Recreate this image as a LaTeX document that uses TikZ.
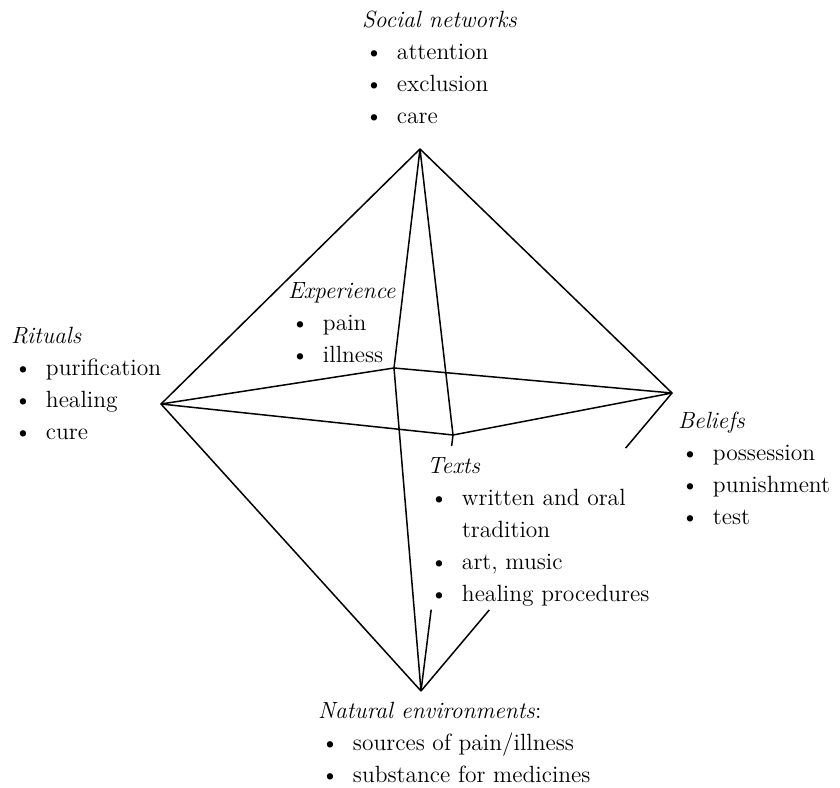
\documentclass[tikz,border=0pt]{standalone}
\usepackage{tikz}
\usetikzlibrary{
  calc,
  positioning
}
\newcommand{\blt}{\makebox[17.5pt][l]{\hspace{1.5pt}\textbullet}}
\newcommand{\cont}{\hspace*{17.5pt}}

\begin{document}
\begin{tikzpicture}[
  x=0.5pt, y=-0.5pt,
  every node/.style={font=\fontsize{11.75}{16}\selectfont},
  lbl/.style={anchor=base west, inner sep=0pt, outer sep=0pt},
  edge/.style={line width=0.75pt, line join=round}
]
  \useasboundingbox (0,0) rectangle (840,787);

  % corners of the solid
  \coordinate (social) at (420,149);
  \coordinate (rituals) at (161,404);
  \coordinate (experience) at (394,368);
  \coordinate (beliefs) at (672,393);
  \coordinate (texts) at (453,435);
  \coordinate (nature) at (421,691);

  % lists
  \node[lbl] (socialtxt) at (362,27) {\begin{tabular}[t]{@{}l@{}}
    \textit{Social networks}\\ \blt attention\\ \blt exclusion\\ \blt care\end{tabular}};
  \node[lbl] (ritualstxt) at (11,343) {\begin{tabular}[t]{@{}l@{}}
    \textit{Rituals}\\ \blt purification\\ \blt healing\\ \blt cure\end{tabular}};
  \node[lbl] (experiencetxt) at (288,298) {\begin{tabular}[t]{@{}l@{}}
    \textit{Experience}\\ \blt pain\\ \blt illness\end{tabular}};
  \node[lbl] (beliefstxt) at (678,428) {\begin{tabular}[t]{@{}l@{}}
    \textit{Beliefs}\\ \blt possession\\ \blt punishment\\ \blt test\end{tabular}};
  \node[lbl] (textstxt) at (427,473) {\begin{tabular}[t]{@{}l@{}}
    \textit{Texts}\\ \blt written and oral\\ \cont tradition\\ \blt art, music\\ \blt healing procedures\end{tabular}};
  \node[lbl] (naturetxt) at (318,718) {\begin{tabular}[t]{@{}l@{}}
    \textit{Natural environments}:\\ \blt sources of pain/illness\\ \blt substance for medicines\end{tabular}};

  % upper half
  \draw[edge] (social) -- (rituals);
  \draw[edge] (social) -- (beliefs);
  \draw[edge] (social) -- (experience);
  \draw[edge] (social) -- (texts);

  % middle ring
  \draw[edge] (rituals) -- (experience) -- (beliefs) -- (texts) -- cycle;

  % lower half
  \draw[edge] (rituals) -- (nature);
  \draw[edge] (experience) -- (nature);
  \draw[edge] (texts) -- ($(texts)!0.043!(nature)$);
  \draw[edge] ($(texts)!0.682!(nature)$) -- (nature);
  \draw[edge] (beliefs) -- ($(beliefs)!0.185!(nature)$);
  \draw[edge] ($(beliefs)!0.728!(nature)$) -- (nature);

\end{tikzpicture}
\end{document}
